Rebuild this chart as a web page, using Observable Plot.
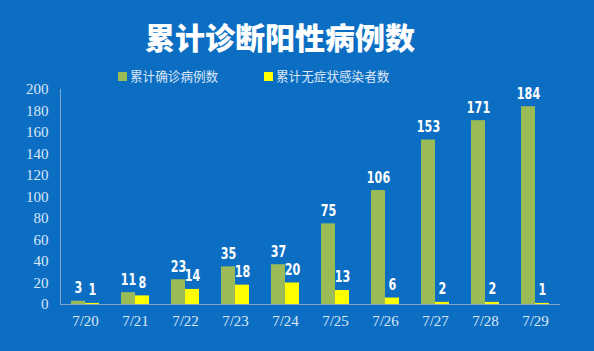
<!DOCTYPE html>
<html><head><meta charset="utf-8">
<script src="https://cdn.jsdelivr.net/npm/d3@7"></script>
<script src="https://cdn.jsdelivr.net/npm/@observablehq/plot@0.6"></script>
<style>
html,body{margin:0;padding:0;background:#0c6ec3;}
#wrap{position:relative;width:594px;height:351px;overflow:hidden;background:#0c6ec3;}
#title{position:absolute;top:14px;left:0;width:560px;text-align:center;color:#fff;font-family:"Noto Sans CJK SC",sans-serif;font-weight:900;font-size:30px;line-height:44px;}
#legend{position:absolute;top:66px;left:0;width:594px;font-family:"Noto Sans CJK SC",sans-serif;font-size:12.6px;color:#dce8f5;}
.li{position:absolute;top:0;line-height:20px;white-space:nowrap;}
.sw{display:inline-block;width:9px;height:9px;margin-right:3px;vertical-align:0px;}
#chart{position:absolute;top:80px;left:0;}
</style></head>
<body><div id="wrap"><div id="title"></div><div id="legend"></div><div id="chart"></div></div>
<script>
const title = "累计诊断阳性病例数";
const dates = ["7/20","7/21","7/22","7/23","7/24","7/25","7/26","7/27","7/28","7/29"];
const seriesNames = ["累计确诊病例数","累计无症状感染者数"];
const confirmed = [3,11,23,35,37,75,106,153,171,184];
const asymptomatic = [1,8,14,18,20,13,6,2,2,1];
const yTicks = [0,20,40,60,80,100,120,140,160,180,200];
const colors = ["#9bbb59","#ffff00"];

document.getElementById("title").textContent = title;
const leg = document.getElementById("legend");
const legX = [118, 264];
seriesNames.forEach((s,i)=>{
  const d = document.createElement("div"); d.className="li"; d.style.left=legX[i]+"px";
  d.innerHTML = `<span class="sw" style="background:${colors[i]}"></span>${s}`;
  leg.appendChild(d);
});

const data = [];
dates.forEach((d,i)=>{
  data.push({date:d, series:seriesNames[0], value:confirmed[i]});
  data.push({date:d, series:seriesNames[1], value:asymptomatic[i]});
});

const plot = Plot.plot({
  width: 594, height: 271,
  marginLeft: 60, marginRight: 34, marginTop: 9, marginBottom: 47,
  style: {background:"transparent", color:"#dce8f5", overflow:"visible"},
  fx: {domain: dates, padding: 0, label: null},
  x: {domain: seriesNames, paddingInner: 0, paddingOuter: 0.72, axis: null},
  y: {domain: [0,200], ticks: yTicks, label: null},
  color: {domain: seriesNames, range: colors},
  marks: [
    Plot.axisY({ticks: yTicks, tickSize: 0, tickPadding: 12, fontSize: 15, fontFamily: "Liberation Serif, serif", fill: "#dce8f5", label: null}),
    Plot.axisFx({anchor: "bottom", tickSize: 0, tickPadding: 11, fontSize: 15, fontFamily: "Liberation Serif, serif", fill: "#dce8f5", label: null}),
    Plot.barY(data, {fx: "date", x: "series", y: "value", fill: "series"}),
    Plot.ruleY([0], {stroke: "#7fa6cc", strokeWidth: 1}),
    Plot.frame({anchor: "left", facetAnchor: "left", stroke: "#7fa6cc"}),
    Plot.text(data, {fx: "date", x: "series", y: "value", text: d=>String(d.value), dy: -13, fill: "#fff", fontSize: 15.5, fontWeight: "bold", fontFamily: "DejaVu Sans, sans-serif", className: "lbl"})
  ]
});
// narrow the value labels horizontally (condensed look)
plot.querySelectorAll("g.lbl text, .lbl text").forEach(t => {
  const tr = t.getAttribute("transform");
  if (tr) {
    t.setAttribute("transform", tr + " scale(0.72,1)");
  } else {
    const x = +t.getAttribute("x") || 0, y = +t.getAttribute("y") || 0;
    t.setAttribute("transform", `translate(${x},${y}) scale(0.72,1) translate(${-x},${-y})`);
  }
});
document.getElementById("chart").appendChild(plot);
</script></body></html>
